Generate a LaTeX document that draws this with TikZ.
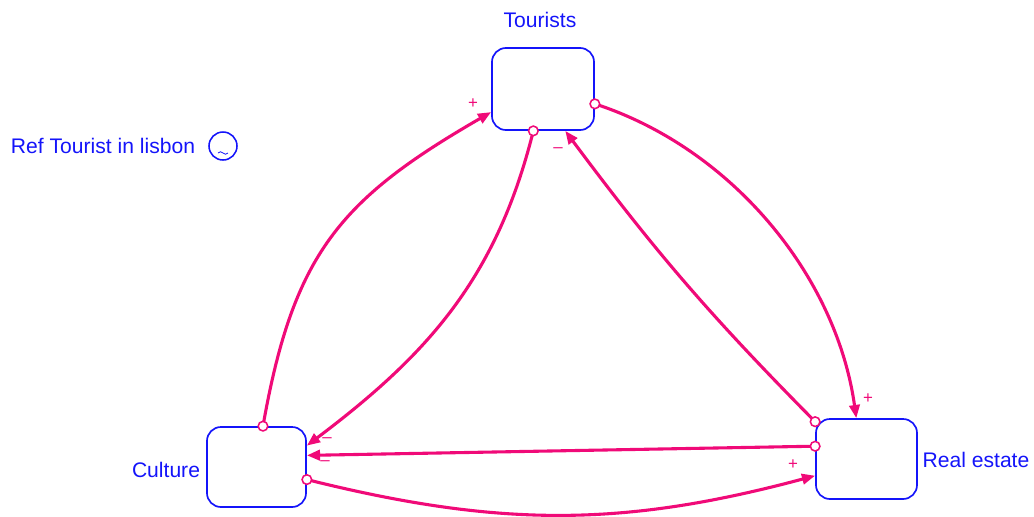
\documentclass[tikz,border=0pt]{standalone}
\usepackage{fontspec}
\setmainfont{Liberation Sans}
\usetikzlibrary{arrows.meta}
\definecolor{stockblue}{RGB}{20,20,250}
\definecolor{linkpink}{RGB}{240,10,120}

\begin{document}
\begin{tikzpicture}[x=0.025cm, y=-0.025cm,
    stock/.style={draw=stockblue, line width=1.2pt, rounded corners=0.35cm,
      minimum width=2.55cm, minimum height=2.05cm, inner sep=0pt},
    link/.style={draw=linkpink, line width=2.2pt,
      -{Triangle[length=0.33cm,width=0.26cm]}},
    tail/.style={draw=linkpink, line width=1.1pt, fill=white},
    lbl/.style={text=stockblue, font=\fontsize{15}{17}\selectfont},
    sign/.style={text=linkpink, font=\fontsize{12}{14}\selectfont, inner sep=0pt}]
  \useasboundingbox (0,0) rectangle (1034,516);

  % stocks
  \node[stock] (tour) at (543,89) {};
  \node[stock, minimum width=2.475cm, minimum height=2cm] (cult) at (256.5,467) {};
  \node[stock, minimum width=2.525cm, minimum height=2cm] (estate) at (866.5,459) {};
  \node[lbl] (tourlbl) at (540,20) {Tourists};
  \node[lbl] (cultlbl) at (166,470) {Culture};
  \node[lbl] (estatelbl) at (976,460) {Real estate};

  % reference converter
  \node[draw=stockblue, line width=1.1pt, circle, minimum size=0.7cm, inner sep=0pt] (ref) at (223,146) {};
  \node[lbl, anchor=east] (reflbl) at (200,146) {Ref Tourist in lisbon};
  \draw[stockblue, line width=0.6pt] (ref.center) ++(-5,7) to[out=60,in=120] ++(5,0) to[out=-60,in=-120] ++(5,0);

  % links
  \draw[link] (cult.81) to[out=80, in=210, looseness=1.15] (tour.204);
  \draw[link] (tour.344) to[out=-18, in=98, looseness=0.9] (estate.104.7);
  \draw[link] (tour.257.6) to[out=256, in=37] (cult.23);
  \draw[link] (estate.144.5) to[bend left=4] (tour.298);
  \draw[link] (estate.166.6) -- (cult.13);
  \draw[link] (cult.346) to[out=-14, in=195] (estate.198.6);

  \draw[tail] (cult.81) circle (0.12cm);
  \draw[tail] (tour.344) circle (0.12cm);
  \draw[tail] (tour.257.6) circle (0.12cm);
  \draw[tail] (estate.144.5) circle (0.12cm);
  \draw[tail] (estate.166.6) circle (0.12cm);
  \draw[tail] (cult.346) circle (0.12cm);

  % polarities
  \node[sign] (p1) at (473,104) {+};
  \node[sign] (p2) at (868,399) {+};
  \node[sign] (p3) at (793,465) {+};
  \node[sign] (m1) at (558,150) {\textendash};
  \node[sign] (m2) at (327,440) {\textendash};
  \node[sign] (m3) at (325,463) {\textendash};
\end{tikzpicture}
\end{document}
